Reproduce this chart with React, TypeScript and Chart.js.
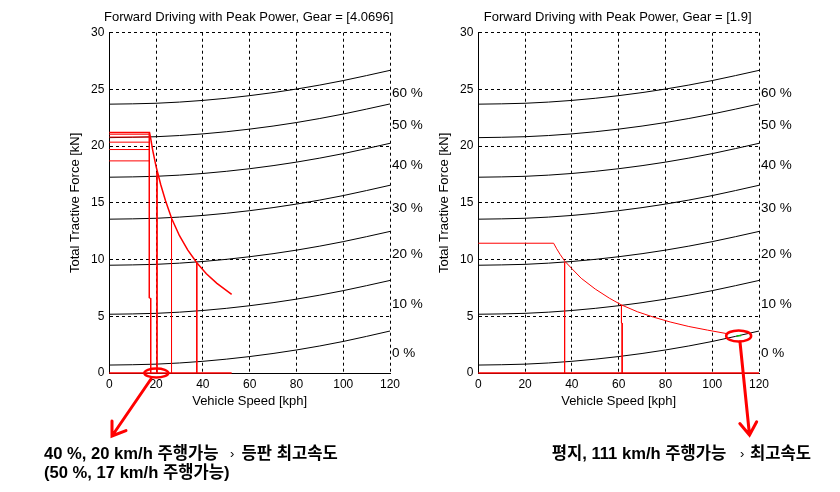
import React, { useEffect, useRef } from "react";
import { Chart, registerables } from "chart.js";
Chart.register(...registerables);

// ---------- data ----------
const speedGrid = [0, 20, 40, 60, 80, 100, 120];
const grade0 = [0.7, 0.78, 1.03, 1.45, 2.03, 2.78, 3.7];
const grade10 = [5.18, 5.26, 5.51, 5.93, 6.51, 7.26, 8.16];
const grade20 = [9.5, 9.58, 9.83, 10.25, 10.83, 11.58, 12.48];
const grade30 = [13.56, 13.64, 13.89, 14.31, 14.89, 15.64, 16.55];
const grade40 = [17.26, 17.34, 17.59, 18.01, 18.59, 19.34, 20.25];
const grade50 = [20.75, 20.83, 21.08, 21.5, 22.08, 22.83, 23.72];
const grade60 = [23.7, 23.78, 24.03, 24.45, 25.03, 25.78, 26.68];
const gradeLabels = ["0 %", "10 %", "20 %", "30 %", "40 %", "50 %", "60 %"];
const gradeLabelY = [1.7, 6.1, 10.5, 14.5, 18.35, 21.8, 24.7];

const leftTitle = "Forward Driving with Peak Power, Gear = [4.0696]";
const rightTitle = "Forward Driving with Peak Power, Gear = [1.9]";
const xTitle = "Vehicle Speed [kph]";
const yTitle = "Total Tractive Force [kN]";

const leftTracSpeed = [0, 17.2, 17.6, 18.5, 20.0, 22.0, 24.0, 26.7, 30.0, 33.5, 37.4, 41.5, 46.0, 52.3];
const leftTracForce = [21.2, 21.2, 20.8, 19.7, 18.2, 16.6, 15.2, 13.6, 12.1, 10.85, 9.72, 8.75, 7.9, 6.94];
const leftStepLevels = [21.05, 20.8, 20.35, 19.7, 18.7];
const leftStepEnd = 17.2;
const leftDropSpeed = [20.4, 26.6, 37.4];
const leftDropTop = [17.7, 13.6, 9.72];
const leftJogSpeed = [17.1, 17.1, 17.7, 17.7];
const leftJogForce = [21.2, 6.6, 6.6, 0];
const leftZeroEnd = 52.3;

const rightTracSpeed = [0, 32.2, 33.5, 35, 37, 40, 44, 50, 56, 61.2, 68, 75, 82, 90, 98, 106];
const rightTracForce = [11.44, 11.44, 10.95, 10.45, 9.85, 9.2, 8.35, 7.4, 6.6, 6.0, 5.4, 4.92, 4.5, 4.1, 3.78, 3.48];
const rightDropSpeed = [36.9];
const rightDropTop = [9.75];
const rightJogSpeed = [61.2, 61.2, 61.5, 61.5];
const rightJogForce = [6.0, 4.4, 4.4, 0];
const rightZeroEnd = 120;
const greenSpeed = [110.4, 112.4];
const greenForce = [3.27, 3.31];

const leftNote1 = "40 %, 20 km/h 주행가능";
const leftNote1b = "등판 최고속도";
const leftNote2 = "(50 %, 17 km/h 주행가능)";
const rightNote1 = "평지, 111 km/h 주행가능";
const rightNote1b = "최고속도";
const arrowMark = "›";

// ---------- helpers ----------
const FONT = '"Liberation Sans", Arial, sans-serif';
const RED = "#ff0000";

function seg(xs: number[], ys: number[], color: string, width = 1, smooth = false) {
  return {
    data: xs.map((x, i) => ({ x, y: ys[i] })),
    borderColor: color,
    backgroundColor: color,
    borderWidth: width,
    pointRadius: 0,
    tension: 0,
    cubicInterpolationMode: smooth ? "monotone" : "default",
    fill: false,
    clip: 8,
  };
}

function gradeSets() {
  return [grade0, grade10, grade20, grade30, grade40, grade50, grade60].map((g) =>
    seg(speedGrid, g, "#000", 1, true)
  );
}

type Note = { text: string; x: number; y: number; size?: number; weight?: string };
type Extra = {
  title: string;
  ellipse: { sx: number; sy: number; rx: number; ry: number };
  arrow: { x1: number; y1: number; x2: number; y2: number };
  notes: Note[];
};

function drawArrow(ctx: CanvasRenderingContext2D, a: Extra["arrow"]) {
  ctx.save();
  ctx.strokeStyle = RED;
  ctx.lineWidth = 3;
  ctx.lineCap = "round";
  ctx.beginPath();
  ctx.moveTo(a.x1, a.y1);
  ctx.lineTo(a.x2, a.y2);
  const ang = Math.atan2(a.y1 - a.y2, a.x1 - a.x2);
  const L = 15;
  const spread = 0.6;
  ctx.moveTo(a.x2 + L * Math.cos(ang - spread), a.y2 + L * Math.sin(ang - spread));
  ctx.lineTo(a.x2, a.y2);
  ctx.lineTo(a.x2 + L * Math.cos(ang + spread), a.y2 + L * Math.sin(ang + spread));
  ctx.stroke();
  ctx.restore();
}

function makeAnnot(extra: Extra) {
  return {
    id: "annot",
    afterDraw(chart: any) {
      const { ctx, chartArea, scales } = chart;
      const xs = scales.x;
      const ys = scales.y;
      ctx.save();
      // title
      ctx.fillStyle = "#000";
      ctx.font = `13px ${FONT}`;
      ctx.textAlign = "center";
      ctx.textBaseline = "middle";
      ctx.fillText(extra.title, (chartArea.left + chartArea.right) / 2 - 1, 17.5);
      // grade labels
      ctx.font = `13.5px ${FONT}`;
      ctx.textAlign = "left";
      gradeLabels.forEach((t, i) => {
        ctx.fillText(t, chartArea.right + 2, ys.getPixelForValue(gradeLabelY[i]));
      });
      // ellipse
      const e = extra.ellipse;
      ctx.strokeStyle = RED;
      ctx.lineWidth = 2.5;
      ctx.beginPath();
      ctx.ellipse(xs.getPixelForValue(e.sx), ys.getPixelForValue(e.sy), e.rx, e.ry, 0, 0, Math.PI * 2);
      ctx.stroke();
      drawArrow(ctx, extra.arrow);
      // notes
      ctx.fillStyle = "#000";
      extra.notes.forEach((n) => {
        ctx.font = `${n.weight ?? "bold"} ${n.size ?? 16.6}px ${FONT}, "Noto Sans CJK KR", sans-serif`;
        ctx.fillText(n.text, n.x, n.y);
      });
      ctx.restore();
    },
  };
}

function makeOptions() {
  const tickFont = { family: FONT, size: 12 };
  const axisFont = { family: FONT, size: 13 };
  return {
    animation: false as const,
    responsive: false,
    devicePixelRatio: 1,
    layout: { padding: { left: 60, top: 32.7, right: 80, bottom: 79 } },
    plugins: {
      legend: { display: false },
      tooltip: { enabled: false },
      title: { display: false },
    },
    scales: {
      x: {
        type: "linear" as const,
        min: 0,
        max: 120,
        ticks: { stepSize: 20, padding: 4, font: tickFont, color: "#000", maxRotation: 0 },
        grid: { color: "#000", lineWidth: 1, drawTicks: false },
        border: { color: "#000", width: 1, dash: [3, 3] },
        title: { display: true, text: xTitle, font: axisFont, color: "#000", padding: { top: 0, bottom: 3.5 } },
        afterFit: (s: any) => {
          s.height = 40;
        },
      },
      y: {
        type: "linear" as const,
        min: 0,
        max: 30,
        ticks: { stepSize: 5, padding: 5, font: tickFont, color: "#000" },
        grid: { color: "#000", lineWidth: 1, drawTicks: false },
        border: { color: "#000", width: 1, dash: [3, 3] },
        title: { display: true, text: yTitle, font: axisFont, color: "#000", padding: { top: 7.2, bottom: 0 } },
        afterFit: (s: any) => {
          s.width = 49.3;
        },
      },
    },
  };
}

function leftDatasets() {
  const ds: any[] = [];
  ds.push(seg(leftTracSpeed, leftTracForce, RED, 1.5));
  leftStepLevels.forEach((lv) => ds.push(seg([0, leftStepEnd], [lv, lv], RED, 1)));
  leftDropSpeed.forEach((s, i) => ds.push(seg([s, s], [leftDropTop[i], 0], RED, 1)));
  ds.push(seg(leftJogSpeed, leftJogForce, RED, 1));
  ds.push(seg([0, leftZeroEnd], [0, 0], RED, 1.5));
  return [...ds, ...gradeSets()];
}

function rightDatasets() {
  const ds: any[] = [];
  ds.push(seg(greenSpeed, greenForce, "#00c000", 1.5));
  ds.push(seg(rightTracSpeed, rightTracForce, RED, 1));
  rightDropSpeed.forEach((s, i) => ds.push(seg([s, s], [rightDropTop[i], 0], RED, 1)));
  ds.push(seg(rightJogSpeed, rightJogForce, RED, 1));
  ds.push(seg([0, rightZeroEnd], [0, 0], RED, 1.5));
  return [...ds, ...gradeSets()];
}

export default function App() {
  const leftRef = useRef<HTMLCanvasElement>(null);
  const rightRef = useRef<HTMLCanvasElement>(null);

  useEffect(() => {
    document.body.style.margin = "0";
    const leftExtra: Extra = {
      title: leftTitle,
      ellipse: { sx: 20.1, sy: 0, rx: 12, ry: 4.5 },
      arrow: { x1: 151, y1: 379, x2: 112, y2: 436 },
      notes: [
        { text: leftNote1, x: 44, y: 454 },
        { text: arrowMark, x: 230, y: 454, size: 13, weight: "normal" },
        { text: leftNote1b, x: 241.5, y: 454 },
        { text: leftNote2, x: 44, y: 473 },
      ],
    };
    const rightExtra: Extra = {
      title: rightTitle,
      ellipse: { sx: 111.3, sy: 3.27, rx: 12.5, ry: 5.5 },
      arrow: { x1: 371, y1: 342, x2: 380.5, y2: 435 },
      notes: [
        { text: rightNote1, x: 182.7, y: 454 },
        { text: arrowMark, x: 371, y: 454, size: 13, weight: "normal" },
        { text: rightNote1b, x: 381, y: 454 },
      ],
    };
    const c1 = new Chart(leftRef.current!, {
      type: "line",
      data: { datasets: leftDatasets() },
      options: makeOptions() as any,
      plugins: [makeAnnot(leftExtra)],
    });
    const c2 = new Chart(rightRef.current!, {
      type: "line",
      data: { datasets: rightDatasets() },
      options: makeOptions() as any,
      plugins: [makeAnnot(rightExtra)],
    });
    return () => {
      c1.destroy();
      c2.destroy();
    };
  }, []);

  return (
    <div style={{ position: "relative", width: 840, height: 492, background: "#fff", overflow: "hidden" }}>
      <canvas ref={leftRef} width={470} height={492} style={{ position: "absolute", left: 0, top: 0 }} />
      <canvas ref={rightRef} width={470} height={492} style={{ position: "absolute", left: 369, top: 0 }} />
    </div>
  );
}
